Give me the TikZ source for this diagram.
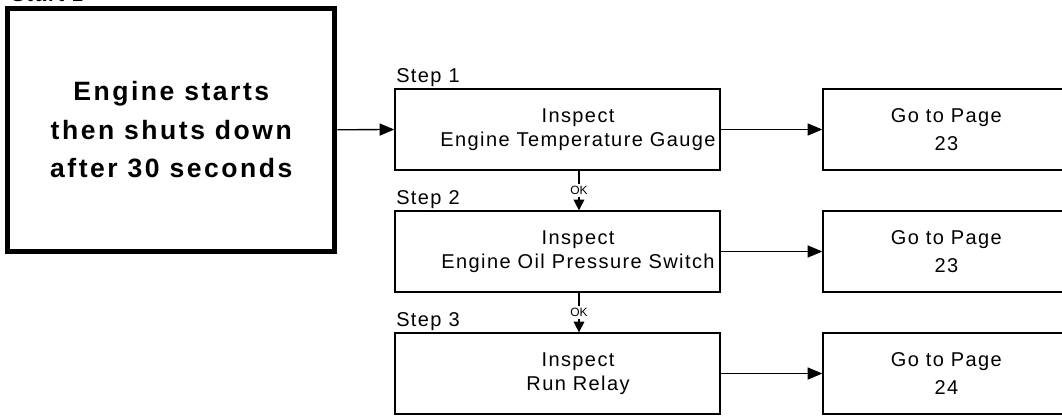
\documentclass[tikz,border=0pt]{standalone}
\usepackage{fontspec}
\setmainfont{Liberation Sans}
\newfontfamily\boxfont{Liberation Sans}[LetterSpace=7]
\newfontfamily\titlefont{Liberation Sans}[LetterSpace=9.5]
\usetikzlibrary{arrows.meta}

\tikzset{
  stepbox/.style={draw, line width=1pt, inner sep=0pt,
    minimum width=243.75pt, minimum height=60.75pt},
  gobox/.style={draw, line width=1pt, inner sep=0pt,
    minimum width=189pt, minimum height=60.75pt},
  steptext/.style={align=center, inner sep=0pt,
    font=\boxfont\fontsize{15}{18}\selectfont},
  gotext/.style={align=center, inner sep=0pt,
    font=\boxfont\fontsize{15}{21}\selectfont},
  steplabel/.style={anchor=base west, inner sep=0pt,
    font=\boxfont\fontsize{15}{18}\selectfont},
  bigarrow/.style={line width=1pt, -{Triangle[length=11pt,width=9pt]}},
  okarrow/.style={line width=1pt, -{Triangle[length=8pt,width=8pt]}},
  oklabel/.style={fill=white, inner sep=1.5pt,
    font=\fontsize{9}{10}\selectfont}
}

\begin{document}
\begin{tikzpicture}[x=0.75pt,y=-0.75pt]
    \useasboundingbox (0,0) rectangle (1062,415);
    \clip (0,0) rectangle (1062,415);

    \def\stepx{557.5}  % centre of step boxes
    \def\gox{949}      % centre of page boxes
    \def\rowA{129.5}
    \def\rowB{251.5}
    \def\rowC{373.5}

    % chart title (cut off at top)
    \node[anchor=base west, inner sep=0pt,
        font=\titlefont\bfseries\fontsize{15}{18}\selectfont]
        (chart) at (11,1.5) {Start 1};

    % symptom box
    \node[draw, line width=3.75pt, inner sep=0pt,
        minimum width=245.6pt, minimum height=182.6pt, align=center,
        font=\titlefont\bfseries\fontsize{19.9}{28.9}\selectfont]
        (symptom) at (171.25,129.75) {Engine starts\\then shuts down\\after 30 seconds};

    % step 1
    \node[stepbox] (step1) at (\stepx,\rowA) {};
    \node[steptext] (step1txt) at ([xshift=15.4pt]step1.center)
        {Inspect\\Engine Temperature Gauge};
    \node[steplabel] (lab1) at (396,82) {Step 1};
    \node[gobox] (go1) at (\gox,\rowA) {};
    \node[gotext] (go1txt) at ([xshift=-2pt]go1.center) {Go to Page\\23};

    % step 2
    \node[stepbox] (step2) at (\stepx,\rowB) {};
    \node[steptext] (step2txt) at ([xshift=15.4pt]step2.center)
        {Inspect\\Engine Oil Pressure Switch};
    \node[steplabel] (lab2) at (396,204) {Step 2};
    \node[gobox] (go2) at (\gox,\rowB) {};
    \node[gotext] (go2txt) at ([xshift=-2pt]go2.center) {Go to Page\\23};

    % step 3
    \node[stepbox] (step3) at (\stepx,\rowC) {};
    \node[steptext] (step3txt) at ([xshift=15.4pt]step3.center)
        {Inspect\\Run Relay};
    \node[steplabel] (lab3) at (396,326) {Step 3};
    \node[gobox] (go3) at (\gox,\rowC) {};
    \node[gotext] (go3txt) at ([xshift=-2pt]go3.center) {Go to Page\\24};

    % arrows
    \draw[bigarrow] (symptom.east) -- (step1.west);
    \draw[bigarrow] (step1.east) -- (go1.west);
    \draw[bigarrow] (step2.east) -- (go2.west);
    \draw[bigarrow] (step3.east) -- (go3.west);

    \draw[okarrow] ([xshift=16.1pt]step1.south) -- ([xshift=16.1pt]step2.north)
        node[midway, oklabel] {OK};
    \draw[okarrow] ([xshift=16.1pt]step2.south) -- ([xshift=16.1pt]step3.north)
        node[midway, oklabel] {OK};
\end{tikzpicture}
\end{document}
